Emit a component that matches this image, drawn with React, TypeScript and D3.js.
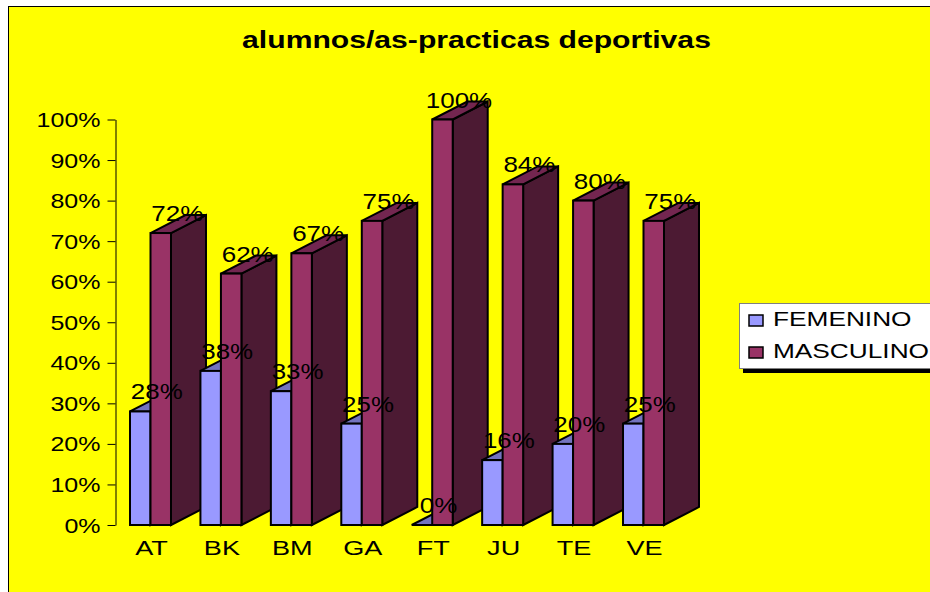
import React, { useEffect, useRef } from 'react';
import * as d3 from 'd3';

const categories = ['AT', 'BK', 'BM', 'GA', 'FT', 'JU', 'TE', 'VE'];
const femenino = [28, 38, 33, 25, 0, 16, 20, 25];
const masculino = [72, 62, 67, 75, 100, 84, 80, 75];
const yTicks = [0, 10, 20, 30, 40, 50, 60, 70, 80, 90, 100];
const seriesNames = ['FEMENINO', 'MASCULINO'];

const FONT = '"Liberation Sans", Arial, sans-serif';
const DEPTH_X = 35;
const DEPTH_Y = 18;

const colors = {
  FEMENINO: { front: '#9999ff', top: '#7373bf', side: '#4d4d80' },
  MASCULINO: { front: '#993366', top: '#732650', side: '#4c1a33' },
};

// the text in the picture is stretched sideways, each kind by its own amount
const addText = (parent: any, label: string, px: number, py: number, size: number, stretch: number, anchor: string) =>
  parent.append('text')
    .attr('font-family', FONT)
    .attr('font-size', size)
    .attr('fill', '#000')
    .attr('text-anchor', anchor)
    .attr('transform', `translate(${px},${py}) scale(${stretch},1)`)
    .text(label);

const App = () => {
  const svgRef = useRef<SVGSVGElement>(null);

  useEffect(() => {
    const svg = d3.select(svgRef.current);
    svg.selectAll('*').remove();

    const width = 930;
    const height = 592;

    svg.attr('width', width).attr('height', height);

    // yellow chart area with its black frame, running off the right and bottom edges
    svg.append('rect')
      .attr('x', 8.5)
      .attr('y', 6.5)
      .attr('width', 930)
      .attr('height', 600)
      .attr('fill', '#ffff00')
      .attr('stroke', '#000')
      .attr('stroke-width', 1);

    const x0 = d3.scaleBand<string>()
      .domain(categories)
      .range([115, 679])
      .paddingInner(0.418)
      .paddingOuter(0.213);

    const x1 = d3.scaleBand<string>()
      .domain(seriesNames)
      .range([0, x0.bandwidth()]);

    const y = d3.scaleLinear().domain([0, 100]).range([525, 119.5]);

    // y axis
    const yAxis = svg.append('g')
      .attr('transform', 'translate(115.5,0)')
      .call(d3.axisLeft(y).tickValues(yTicks).tickSize(8).tickSizeOuter(0).tickFormat((d: any) => `${d}%`));
    yAxis.selectAll('line').attr('stroke', '#000');
    yAxis.select('.domain').attr('stroke', '#000');
    yAxis.selectAll('text')
      .attr('font-family', FONT)
      .attr('font-size', 21)
      .attr('fill', '#000')
      .attr('text-anchor', 'end')
      .attr('x', 0)
      .attr('dy', 0)
      .attr('y', 0)
      .attr('transform', 'translate(-15,7) scale(1.19,1)');

    // bars: each group left to right, so the later ones hide the earlier sides
    categories.forEach((cat, i) => {
      [femenino[i], masculino[i]].forEach((v, s) => {
        const name = seriesNames[s] as keyof typeof colors;
        const left = x0(cat)! + x1(name)!;
        const right = left + x1.bandwidth();
        const top = y(v);
        const bottom = y(0);
        const g = svg.append('g')
          .attr('stroke', '#000')
          .attr('stroke-width', 2)
          .attr('stroke-linejoin', 'miter');

        const poly = (pts: number[][], fill: string) =>
          g.append('polygon').attr('points', pts.join(' ')).attr('fill', fill);

        poly([[right, top], [right + DEPTH_X, top - DEPTH_Y], [right + DEPTH_X, bottom - DEPTH_Y], [right, bottom]], colors[name].side);
        poly([[left, top], [left + DEPTH_X, top - DEPTH_Y], [right + DEPTH_X, top - DEPTH_Y], [right, top]], colors[name].top);
        g.append('rect')
          .attr('x', left)
          .attr('y', top)
          .attr('width', right - left)
          .attr('height', bottom - top)
          .attr('fill', colors[name].front);
      });
    });

    // category labels
    categories.forEach((cat) => {
      addText(svg, cat, x0(cat)! + x0.bandwidth() / 2 + 1, 555, 21, 1.29, 'middle');
    });

    // value labels go on top of all the bars
    seriesNames.forEach((name, s) => {
      const values = s === 0 ? femenino : masculino;
      values.forEach((v, i) => {
        const cx = x0(categories[i])! + x1(name)! + x1.bandwidth() / 2 + DEPTH_X / 2 - 1;
        addText(svg, `${v}%`, cx, y(v) - 12, 22, 1.18, 'middle');
      });
    });

    // title
    addText(svg, 'alumnos/as-practicas deportivas', 476.5, 48, 23, 1.31, 'middle')
      .attr('font-weight', 'bold');

    // legend with its shadow
    svg.append('rect').attr('x', 743).attr('y', 306).attr('width', 200).attr('height', 67).attr('fill', '#000');
    svg.append('rect')
      .attr('x', 739.5)
      .attr('y', 303.5)
      .attr('width', 200)
      .attr('height', 65)
      .attr('fill', '#fff')
      .attr('stroke', '#808080');

    seriesNames.forEach((name, i) => {
      const rowY = 315 + i * 32;
      svg.append('rect')
        .attr('x', 749)
        .attr('y', rowY)
        .attr('width', 14)
        .attr('height', 11)
        .attr('fill', colors[name as keyof typeof colors].front)
        .attr('stroke', '#000')
        .attr('stroke-width', 1.5);
      addText(svg, name, 773, rowY + 11, 21, 1.25, 'start');
    });
  }, []);

  return (
    <svg ref={svgRef} style={{ position: 'absolute', left: 0, top: 0, display: 'block' }}></svg>
  );
};

export default App;
